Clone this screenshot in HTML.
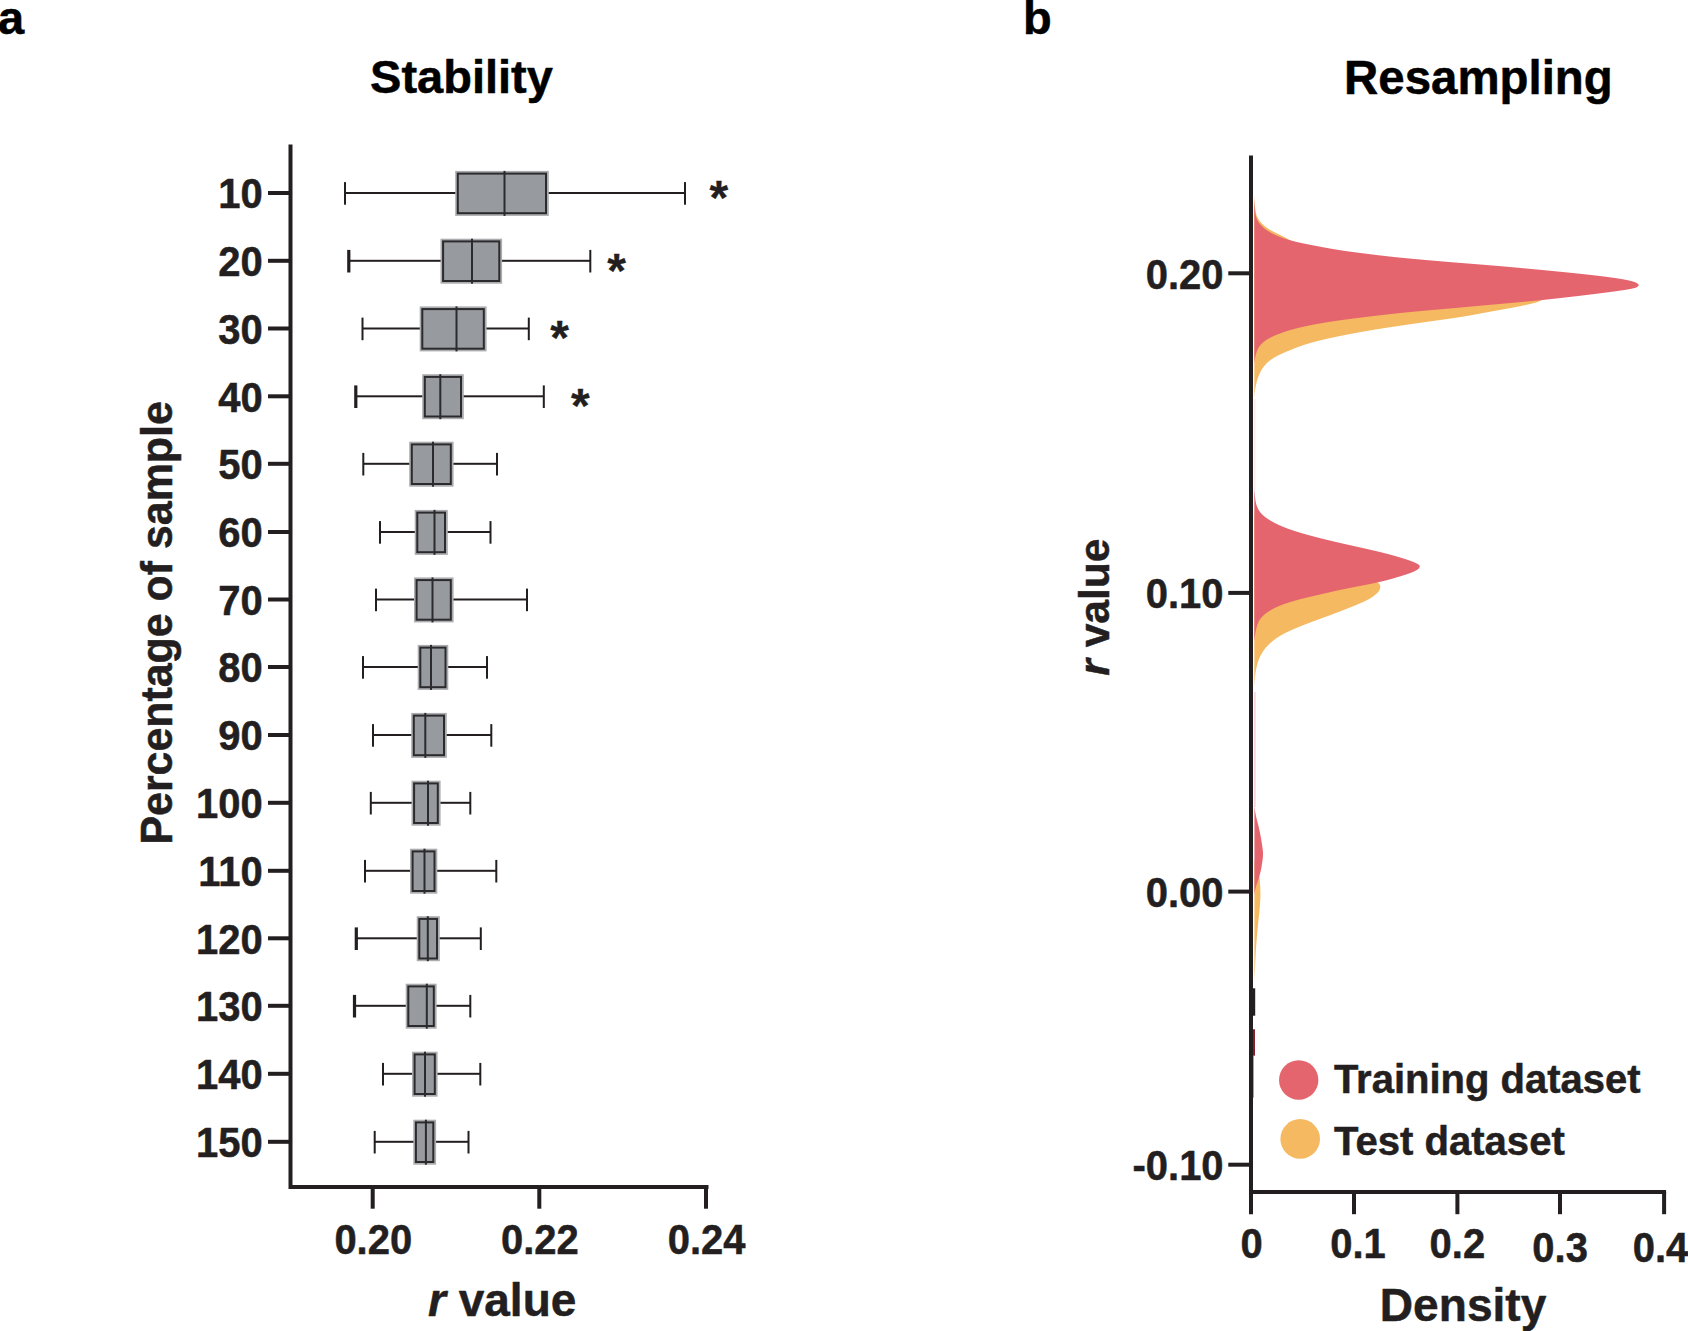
<!DOCTYPE html>
<html lang="en">
<head>
<meta charset="utf-8">
<title>Stability and Resampling</title>
<style>
html,body{margin:0;padding:0;background:#fff;}
body{width:1688px;height:1331px;overflow:hidden;}
svg{display:block;}
svg text{font-family:"Liberation Sans", sans-serif;font-weight:700;fill:#231f20;stroke:#231f20;stroke-width:0.5px;stroke-linejoin:round;}
</style>
</head>
<body>
<svg width="1688" height="1331" viewBox="0 0 1688 1331">
<rect width="1688" height="1331" fill="#fff"/>
<text x="-2" y="34" font-size="47" style="fill:#000;stroke:#000">a</text>
<text x="461.5" y="92.5" font-size="47" style="fill:#000;stroke:#000" text-anchor="middle">Stability</text>
<path d="M290.5 144.5 V1187 H708.5" fill="none" stroke="#231f20" stroke-width="4"/>
<rect x="370.7" y="1187" width="4" height="21.7" fill="#231f20"/>
<text transform="translate(373.3 1254) scale(1 1.045)" font-size="40" text-anchor="middle">0.20</text>
<rect x="537.3" y="1187" width="4" height="21.7" fill="#231f20"/>
<text transform="translate(539.9 1254) scale(1 1.045)" font-size="40" text-anchor="middle">0.22</text>
<rect x="704.0" y="1187" width="4" height="21.7" fill="#231f20"/>
<text transform="translate(706.6 1254) scale(1 1.045)" font-size="40" text-anchor="middle">0.24</text>
<text x="428" y="1315.5" font-size="46"><tspan font-style="italic">r</tspan> value</text>
<text transform="translate(172.4 622.9) rotate(-90) scale(1 1.05)" font-size="42.9" text-anchor="middle">Percentage of sample</text>
<rect x="268" y="191.0" width="22" height="4" fill="#231f20"/>
<text transform="translate(262.7 208.2) scale(1 1.045)" font-size="40" text-anchor="end">10</text>
<rect x="345.0" y="192.0" width="340.0" height="2" fill="#231f20"/>
<rect x="344.0" y="182.1" width="2" height="22.6" fill="#231f20"/>
<rect x="684.0" y="182.1" width="2" height="22.6" fill="#231f20"/>
<rect x="455.2" y="170.9" width="93.6" height="45.0" fill="#abacaf"/>
<rect x="457.8" y="173.6" width="88.2" height="39.6" fill="#979ba0" stroke="#2b2a2c" stroke-width="2"/>
<rect x="503.5" y="170.9" width="2" height="45.0" fill="#2b2a2c"/>
<rect x="268" y="258.8" width="22" height="4" fill="#231f20"/>
<text transform="translate(262.7 276.0) scale(1 1.045)" font-size="40" text-anchor="end">20</text>
<rect x="348.8" y="259.8" width="241.5" height="2" fill="#231f20"/>
<rect x="347.2" y="249.9" width="3.2" height="22.6" fill="#231f20"/>
<rect x="589.3" y="249.9" width="2" height="22.6" fill="#231f20"/>
<rect x="440.5" y="238.7" width="61.6" height="45.0" fill="#abacaf"/>
<rect x="443.1" y="241.4" width="56.2" height="39.6" fill="#979ba0" stroke="#2b2a2c" stroke-width="2"/>
<rect x="471.0" y="238.7" width="2" height="45.0" fill="#2b2a2c"/>
<rect x="268" y="326.5" width="22" height="4" fill="#231f20"/>
<text transform="translate(262.7 343.7) scale(1 1.045)" font-size="40" text-anchor="end">30</text>
<rect x="362.5" y="327.5" width="166.3" height="2" fill="#231f20"/>
<rect x="361.5" y="317.6" width="2" height="22.6" fill="#231f20"/>
<rect x="527.8" y="317.6" width="2" height="22.6" fill="#231f20"/>
<rect x="419.7" y="306.4" width="66.9" height="45.0" fill="#abacaf"/>
<rect x="422.3" y="309.1" width="61.5" height="39.6" fill="#979ba0" stroke="#2b2a2c" stroke-width="2"/>
<rect x="455.5" y="306.4" width="2" height="45.0" fill="#2b2a2c"/>
<rect x="268" y="394.3" width="22" height="4" fill="#231f20"/>
<text transform="translate(262.7 411.5) scale(1 1.045)" font-size="40" text-anchor="end">40</text>
<rect x="355.8" y="395.3" width="188.0" height="2" fill="#231f20"/>
<rect x="354.2" y="385.4" width="3.2" height="22.6" fill="#231f20"/>
<rect x="542.8" y="385.4" width="2" height="22.6" fill="#231f20"/>
<rect x="422.2" y="374.2" width="41.6" height="45.0" fill="#abacaf"/>
<rect x="424.8" y="376.9" width="36.2" height="39.6" fill="#979ba0" stroke="#2b2a2c" stroke-width="2"/>
<rect x="439.3" y="374.2" width="2" height="45.0" fill="#2b2a2c"/>
<rect x="268" y="461.8" width="22" height="4" fill="#231f20"/>
<text transform="translate(262.7 479.0) scale(1 1.045)" font-size="40" text-anchor="end">50</text>
<rect x="363.3" y="462.8" width="133.7" height="2" fill="#231f20"/>
<rect x="362.3" y="452.9" width="2" height="22.6" fill="#231f20"/>
<rect x="496.0" y="452.9" width="2" height="22.6" fill="#231f20"/>
<rect x="409.2" y="441.7" width="44.4" height="45.0" fill="#abacaf"/>
<rect x="411.8" y="444.4" width="39.0" height="39.6" fill="#979ba0" stroke="#2b2a2c" stroke-width="2"/>
<rect x="432.0" y="441.7" width="2" height="45.0" fill="#2b2a2c"/>
<rect x="268" y="530.0" width="22" height="4" fill="#231f20"/>
<text transform="translate(262.7 547.2) scale(1 1.045)" font-size="40" text-anchor="end">60</text>
<rect x="380.0" y="531.0" width="110.5" height="2" fill="#231f20"/>
<rect x="379.0" y="521.1" width="2" height="22.6" fill="#231f20"/>
<rect x="489.5" y="521.1" width="2" height="22.6" fill="#231f20"/>
<rect x="414.7" y="509.9" width="33.1" height="45.0" fill="#abacaf"/>
<rect x="417.3" y="512.6" width="27.7" height="39.6" fill="#979ba0" stroke="#2b2a2c" stroke-width="2"/>
<rect x="433.5" y="509.9" width="2" height="45.0" fill="#2b2a2c"/>
<rect x="268" y="597.5" width="22" height="4" fill="#231f20"/>
<text transform="translate(262.7 614.7) scale(1 1.045)" font-size="40" text-anchor="end">70</text>
<rect x="376.0" y="598.5" width="151.0" height="2" fill="#231f20"/>
<rect x="375.0" y="588.6" width="2" height="22.6" fill="#231f20"/>
<rect x="526.0" y="588.6" width="2" height="22.6" fill="#231f20"/>
<rect x="414.0" y="577.4" width="39.6" height="45.0" fill="#abacaf"/>
<rect x="416.6" y="580.1" width="34.2" height="39.6" fill="#979ba0" stroke="#2b2a2c" stroke-width="2"/>
<rect x="431.5" y="577.4" width="2" height="45.0" fill="#2b2a2c"/>
<rect x="268" y="665.0" width="22" height="4" fill="#231f20"/>
<text transform="translate(262.7 682.2) scale(1 1.045)" font-size="40" text-anchor="end">80</text>
<rect x="363.0" y="666.0" width="124.0" height="2" fill="#231f20"/>
<rect x="362.0" y="656.1" width="2" height="22.6" fill="#231f20"/>
<rect x="486.0" y="656.1" width="2" height="22.6" fill="#231f20"/>
<rect x="417.7" y="644.9" width="30.6" height="45.0" fill="#abacaf"/>
<rect x="420.3" y="647.6" width="25.2" height="39.6" fill="#979ba0" stroke="#2b2a2c" stroke-width="2"/>
<rect x="430.0" y="644.9" width="2" height="45.0" fill="#2b2a2c"/>
<rect x="268" y="733.0" width="22" height="4" fill="#231f20"/>
<text transform="translate(262.7 750.2) scale(1 1.045)" font-size="40" text-anchor="end">90</text>
<rect x="373.0" y="734.0" width="118.3" height="2" fill="#231f20"/>
<rect x="372.0" y="724.1" width="2" height="22.6" fill="#231f20"/>
<rect x="490.3" y="724.1" width="2" height="22.6" fill="#231f20"/>
<rect x="411.2" y="712.9" width="35.6" height="45.0" fill="#abacaf"/>
<rect x="413.8" y="715.6" width="30.2" height="39.6" fill="#979ba0" stroke="#2b2a2c" stroke-width="2"/>
<rect x="424.3" y="712.9" width="2" height="45.0" fill="#2b2a2c"/>
<rect x="268" y="800.8" width="22" height="4" fill="#231f20"/>
<text transform="translate(262.7 818.0) scale(1 1.045)" font-size="40" text-anchor="end">100</text>
<rect x="370.8" y="801.8" width="99.5" height="2" fill="#231f20"/>
<rect x="369.8" y="791.9" width="2" height="22.6" fill="#231f20"/>
<rect x="469.3" y="791.9" width="2" height="22.6" fill="#231f20"/>
<rect x="411.5" y="780.7" width="29.1" height="45.0" fill="#abacaf"/>
<rect x="414.1" y="783.4" width="23.7" height="39.6" fill="#979ba0" stroke="#2b2a2c" stroke-width="2"/>
<rect x="427.0" y="780.7" width="2" height="45.0" fill="#2b2a2c"/>
<rect x="268" y="868.8" width="22" height="4" fill="#231f20"/>
<text transform="translate(262.7 886.0) scale(1 1.045)" font-size="40" text-anchor="end">110</text>
<rect x="365.0" y="869.8" width="131.3" height="2" fill="#231f20"/>
<rect x="364.0" y="859.9" width="2" height="22.6" fill="#231f20"/>
<rect x="495.3" y="859.9" width="2" height="22.6" fill="#231f20"/>
<rect x="410.0" y="848.7" width="27.3" height="45.0" fill="#abacaf"/>
<rect x="412.6" y="851.4" width="21.9" height="39.6" fill="#979ba0" stroke="#2b2a2c" stroke-width="2"/>
<rect x="423.5" y="848.7" width="2" height="45.0" fill="#2b2a2c"/>
<rect x="268" y="936.3" width="22" height="4" fill="#231f20"/>
<text transform="translate(262.7 953.5) scale(1 1.045)" font-size="40" text-anchor="end">120</text>
<rect x="356.3" y="937.3" width="124.5" height="2" fill="#231f20"/>
<rect x="354.7" y="927.4" width="3.2" height="22.6" fill="#231f20"/>
<rect x="479.8" y="927.4" width="2" height="22.6" fill="#231f20"/>
<rect x="416.7" y="916.2" width="23.1" height="45.0" fill="#abacaf"/>
<rect x="419.3" y="918.9" width="17.7" height="39.6" fill="#979ba0" stroke="#2b2a2c" stroke-width="2"/>
<rect x="426.8" y="916.2" width="2" height="45.0" fill="#2b2a2c"/>
<rect x="268" y="1003.8" width="22" height="4" fill="#231f20"/>
<text transform="translate(262.7 1021.0) scale(1 1.045)" font-size="40" text-anchor="end">130</text>
<rect x="354.5" y="1004.8" width="115.8" height="2" fill="#231f20"/>
<rect x="352.9" y="994.9" width="3.2" height="22.6" fill="#231f20"/>
<rect x="469.3" y="994.9" width="2" height="22.6" fill="#231f20"/>
<rect x="405.7" y="983.7" width="30.9" height="45.0" fill="#abacaf"/>
<rect x="408.3" y="986.4" width="25.5" height="39.6" fill="#979ba0" stroke="#2b2a2c" stroke-width="2"/>
<rect x="425.8" y="983.7" width="2" height="45.0" fill="#2b2a2c"/>
<rect x="268" y="1071.8" width="22" height="4" fill="#231f20"/>
<text transform="translate(262.7 1089.0) scale(1 1.045)" font-size="40" text-anchor="end">140</text>
<rect x="383.0" y="1072.8" width="97.3" height="2" fill="#231f20"/>
<rect x="382.0" y="1062.9" width="2" height="22.6" fill="#231f20"/>
<rect x="479.3" y="1062.9" width="2" height="22.6" fill="#231f20"/>
<rect x="412.0" y="1051.7" width="25.6" height="45.0" fill="#abacaf"/>
<rect x="414.6" y="1054.4" width="20.2" height="39.6" fill="#979ba0" stroke="#2b2a2c" stroke-width="2"/>
<rect x="424.0" y="1051.7" width="2" height="45.0" fill="#2b2a2c"/>
<rect x="268" y="1139.8" width="22" height="4" fill="#231f20"/>
<text transform="translate(262.7 1157.0) scale(1 1.045)" font-size="40" text-anchor="end">150</text>
<rect x="374.7" y="1140.8" width="93.8" height="2" fill="#231f20"/>
<rect x="373.7" y="1130.9" width="2" height="22.6" fill="#231f20"/>
<rect x="467.5" y="1130.9" width="2" height="22.6" fill="#231f20"/>
<rect x="413.3" y="1119.7" width="22.8" height="45.0" fill="#abacaf"/>
<rect x="415.9" y="1122.4" width="17.4" height="39.6" fill="#979ba0" stroke="#2b2a2c" stroke-width="2"/>
<rect x="424.9" y="1119.7" width="2" height="45.0" fill="#2b2a2c"/>
<text x="718.8" y="213.8" font-size="48" text-anchor="middle" style="stroke-width:0.3px">*</text>
<text x="616.7" y="286.5" font-size="48" text-anchor="middle" style="stroke-width:0.3px">*</text>
<text x="559.7" y="354.0" font-size="48" text-anchor="middle" style="stroke-width:0.3px">*</text>
<text x="580.4" y="421.5" font-size="48" text-anchor="middle" style="stroke-width:0.3px">*</text>
<text x="1023" y="34" font-size="47" style="fill:#000;stroke:#000">b</text>
<text x="1478.4" y="93.6" font-size="47.4" style="fill:#000;stroke:#000" text-anchor="middle">Resampling</text>
<path d="M1254.3 195.0 L1254.3 195.0 L1254.3 195.5 L1254.3 196.0 L1254.4 196.5 L1254.4 197.0 L1254.4 197.5 L1254.4 198.0 L1254.5 198.5 L1254.5 199.0 L1254.5 199.5 L1254.5 200.0 L1254.6 200.5 L1254.6 201.0 L1254.6 201.5 L1254.7 202.0 L1254.7 202.5 L1254.7 203.0 L1254.8 203.5 L1254.8 204.0 L1254.9 204.5 L1254.9 205.0 L1254.9 205.5 L1255.0 206.0 L1255.0 206.5 L1255.1 207.0 L1255.1 207.5 L1255.2 208.0 L1255.2 208.5 L1255.3 209.0 L1255.4 209.5 L1255.4 210.0 L1255.5 210.5 L1255.6 211.0 L1255.7 211.5 L1255.8 212.0 L1255.9 212.5 L1256.0 213.0 L1256.1 213.5 L1256.2 214.0 L1256.4 214.5 L1256.5 215.0 L1256.7 215.5 L1256.9 216.0 L1257.1 216.5 L1257.3 217.0 L1257.6 217.5 L1257.8 218.0 L1258.1 218.5 L1258.4 219.0 L1258.7 219.5 L1259.0 220.0 L1259.4 220.5 L1259.7 221.0 L1260.1 221.5 L1260.6 222.0 L1261.0 222.5 L1261.5 223.0 L1261.9 223.5 L1262.4 224.0 L1263.0 224.5 L1263.5 225.0 L1264.0 225.5 L1264.6 226.0 L1265.2 226.5 L1265.9 227.0 L1266.5 227.5 L1267.2 228.0 L1267.9 228.5 L1268.7 229.0 L1269.5 229.5 L1270.3 230.0 L1271.2 230.5 L1272.1 231.0 L1273.0 231.5 L1274.0 232.0 L1275.0 232.5 L1276.0 233.0 L1277.0 233.5 L1278.1 234.0 L1279.1 234.5 L1280.2 235.0 L1281.2 235.5 L1282.2 236.0 L1283.2 236.5 L1284.2 237.0 L1285.1 237.5 L1286.1 238.0 L1287.0 238.5 L1287.8 239.0 L1288.7 239.5 L1289.6 240.0 L1290.5 240.5 L1291.4 241.0 L1292.3 241.5 L1293.3 242.0 L1294.3 242.5 L1295.4 243.0 L1296.6 243.5 L1297.8 244.0 L1299.1 244.5 L1300.6 245.0 L1302.1 245.5 L1303.8 246.0 L1305.7 246.5 L1307.6 247.0 L1309.8 247.5 L1312.0 248.0 L1314.4 248.5 L1316.9 249.0 L1319.6 249.5 L1322.3 250.0 L1325.2 250.5 L1328.1 251.0 L1331.2 251.5 L1334.3 252.0 L1337.4 252.5 L1340.7 253.0 L1344.0 253.5 L1347.3 254.0 L1350.7 254.5 L1354.1 255.0 L1357.5 255.5 L1360.9 256.0 L1364.3 256.5 L1367.7 257.0 L1371.1 257.5 L1374.5 258.0 L1377.8 258.5 L1381.1 259.0 L1384.4 259.5 L1387.6 260.0 L1390.7 260.5 L1393.8 261.0 L1396.9 261.5 L1399.9 262.0 L1402.9 262.5 L1405.8 263.0 L1408.8 263.5 L1411.8 264.0 L1414.8 264.5 L1417.8 265.0 L1420.8 265.5 L1423.8 266.0 L1426.8 266.5 L1429.9 267.0 L1432.9 267.5 L1435.9 268.0 L1439.0 268.5 L1442.0 269.0 L1445.0 269.5 L1448.0 270.0 L1451.0 270.5 L1454.0 271.0 L1456.9 271.5 L1459.8 272.0 L1462.7 272.5 L1465.5 273.0 L1468.3 273.5 L1471.1 274.0 L1473.8 274.5 L1476.4 275.0 L1479.1 275.5 L1481.6 276.0 L1484.1 276.5 L1486.5 277.0 L1488.9 277.5 L1491.2 278.0 L1493.5 278.5 L1495.6 279.0 L1497.8 279.5 L1499.9 280.0 L1501.9 280.5 L1504.0 281.0 L1506.0 281.5 L1508.0 282.0 L1510.1 282.5 L1512.1 283.0 L1514.1 283.5 L1516.1 284.0 L1518.1 284.5 L1520.0 285.0 L1521.9 285.5 L1523.8 286.0 L1525.6 286.5 L1527.4 287.0 L1529.1 287.5 L1530.7 288.0 L1532.2 288.5 L1533.7 289.0 L1535.1 289.5 L1536.4 290.0 L1537.6 290.5 L1538.7 291.0 L1539.7 291.5 L1540.6 292.0 L1541.4 292.5 L1542.1 293.0 L1542.6 293.5 L1542.9 294.0 L1543.2 294.5 L1543.4 295.0 L1543.6 295.5 L1543.7 296.0 L1543.8 296.5 L1543.9 297.0 L1544.0 297.5 L1544.0 298.0 L1543.8 298.5 L1543.4 299.0 L1542.8 299.5 L1542.0 300.0 L1541.0 300.5 L1540.0 301.0 L1538.9 301.5 L1537.6 302.0 L1536.1 302.5 L1534.3 303.0 L1532.3 303.5 L1530.2 304.0 L1527.9 304.5 L1525.6 305.0 L1523.3 305.5 L1520.9 306.0 L1518.4 306.5 L1515.9 307.0 L1513.3 307.5 L1510.6 308.0 L1507.9 308.5 L1505.2 309.0 L1502.4 309.5 L1499.6 310.0 L1496.8 310.5 L1494.0 311.0 L1491.2 311.5 L1488.5 312.0 L1485.8 312.5 L1483.1 313.0 L1480.5 313.5 L1477.8 314.0 L1475.1 314.5 L1472.4 315.0 L1469.6 315.5 L1466.7 316.0 L1463.7 316.5 L1460.6 317.0 L1457.4 317.5 L1454.1 318.0 L1450.7 318.5 L1447.2 319.0 L1443.7 319.5 L1440.1 320.0 L1436.5 320.5 L1432.9 321.0 L1429.3 321.5 L1425.7 322.0 L1422.2 322.5 L1418.7 323.0 L1415.2 323.5 L1411.8 324.0 L1408.3 324.5 L1404.9 325.0 L1401.6 325.5 L1398.2 326.0 L1394.9 326.5 L1391.5 327.0 L1388.2 327.5 L1385.0 328.0 L1381.8 328.5 L1378.6 329.0 L1375.5 329.5 L1372.5 330.0 L1369.5 330.5 L1366.6 331.0 L1363.7 331.5 L1360.9 332.0 L1358.2 332.5 L1355.5 333.0 L1352.8 333.5 L1350.1 334.0 L1347.6 334.5 L1345.0 335.0 L1342.5 335.5 L1340.0 336.0 L1337.6 336.5 L1335.2 337.0 L1332.8 337.5 L1330.5 338.0 L1328.2 338.5 L1326.0 339.0 L1323.8 339.5 L1321.7 340.0 L1319.7 340.5 L1317.7 341.0 L1315.8 341.5 L1313.9 342.0 L1312.1 342.5 L1310.3 343.0 L1308.6 343.5 L1307.0 344.0 L1305.3 344.5 L1303.8 345.0 L1302.3 345.5 L1300.9 346.0 L1299.5 346.5 L1298.1 347.0 L1296.8 347.5 L1295.5 348.0 L1294.3 348.5 L1293.0 349.0 L1291.8 349.5 L1290.6 350.0 L1289.3 350.5 L1288.1 351.0 L1286.9 351.5 L1285.6 352.0 L1284.5 352.5 L1283.3 353.0 L1282.2 353.5 L1281.1 354.0 L1280.0 354.5 L1279.0 355.0 L1278.0 355.5 L1277.0 356.0 L1276.1 356.5 L1275.2 357.0 L1274.3 357.5 L1273.5 358.0 L1272.7 358.5 L1272.0 359.0 L1271.3 359.5 L1270.6 360.0 L1269.9 360.5 L1269.3 361.0 L1268.7 361.5 L1268.1 362.0 L1267.6 362.5 L1267.0 363.0 L1266.5 363.5 L1266.0 364.0 L1265.6 364.5 L1265.1 365.0 L1264.7 365.5 L1264.3 366.0 L1263.9 366.5 L1263.5 367.0 L1263.1 367.5 L1262.8 368.0 L1262.4 368.5 L1262.1 369.0 L1261.8 369.5 L1261.5 370.0 L1261.2 370.5 L1260.9 371.0 L1260.7 371.5 L1260.4 372.0 L1260.1 372.5 L1259.9 373.0 L1259.7 373.5 L1259.4 374.0 L1259.2 374.5 L1259.0 375.0 L1258.8 375.5 L1258.6 376.0 L1258.4 376.5 L1258.2 377.0 L1258.0 377.5 L1257.9 378.0 L1257.7 378.5 L1257.5 379.0 L1257.4 379.5 L1257.2 380.0 L1257.1 380.5 L1256.9 381.0 L1256.8 381.5 L1256.7 382.0 L1256.5 382.5 L1256.4 383.0 L1256.3 383.5 L1256.2 384.0 L1256.1 384.5 L1256.0 385.0 L1255.9 385.5 L1255.8 386.0 L1255.7 386.5 L1255.6 387.0 L1255.5 387.5 L1255.4 388.0 L1255.3 388.5 L1255.2 389.0 L1255.1 389.5 L1255.1 390.0 L1255.0 390.5 L1255.0 391.0 L1254.9 391.5 L1254.8 392.0 L1254.8 392.5 L1254.7 393.0 L1254.7 393.5 L1254.6 394.0 L1254.6 394.5 L1254.5 395.0 L1254.5 395.5 L1254.5 396.0 L1254.4 396.5 L1254.4 397.0 L1254.4 397.5 L1254.4 398.0 L1254.3 398.5 L1254.3 399.0 L1254.3 399.0 Z" fill="#f5b961"/>
<path d="M1254.3 198.0 L1254.3 198.0 L1254.3 198.5 L1254.4 199.0 L1254.4 199.5 L1254.4 200.0 L1254.4 200.5 L1254.4 201.0 L1254.5 201.5 L1254.5 202.0 L1254.5 202.5 L1254.6 203.0 L1254.6 203.5 L1254.6 204.0 L1254.6 204.5 L1254.7 205.0 L1254.7 205.5 L1254.8 206.0 L1254.8 206.5 L1254.8 207.0 L1254.9 207.5 L1254.9 208.0 L1254.9 208.5 L1255.0 209.0 L1255.0 209.5 L1255.1 210.0 L1255.1 210.5 L1255.2 211.0 L1255.2 211.5 L1255.2 212.0 L1255.3 212.5 L1255.4 213.0 L1255.4 213.5 L1255.5 214.0 L1255.6 214.5 L1255.7 215.0 L1255.8 215.5 L1255.9 216.0 L1256.0 216.5 L1256.1 217.0 L1256.3 217.5 L1256.5 218.0 L1256.6 218.5 L1256.8 219.0 L1257.0 219.5 L1257.3 220.0 L1257.5 220.5 L1257.8 221.0 L1258.1 221.5 L1258.4 222.0 L1258.7 222.5 L1259.1 223.0 L1259.5 223.5 L1259.9 224.0 L1260.3 224.5 L1260.8 225.0 L1261.3 225.5 L1261.8 226.0 L1262.3 226.5 L1262.8 227.0 L1263.4 227.5 L1263.9 228.0 L1264.5 228.5 L1265.1 229.0 L1265.8 229.5 L1266.5 230.0 L1267.2 230.5 L1267.9 231.0 L1268.7 231.5 L1269.6 232.0 L1270.4 232.5 L1271.3 233.0 L1272.3 233.5 L1273.3 234.0 L1274.3 234.5 L1275.4 235.0 L1276.5 235.5 L1277.7 236.0 L1278.9 236.5 L1280.2 237.0 L1281.5 237.5 L1282.9 238.0 L1284.4 238.5 L1285.9 239.0 L1287.5 239.5 L1289.2 240.0 L1291.0 240.5 L1292.9 241.0 L1294.9 241.5 L1296.9 242.0 L1299.1 242.5 L1301.4 243.0 L1303.7 243.5 L1306.2 244.0 L1308.7 244.5 L1311.2 245.0 L1313.8 245.5 L1316.4 246.0 L1319.1 246.5 L1321.7 247.0 L1324.4 247.5 L1327.2 248.0 L1329.9 248.5 L1332.8 249.0 L1335.8 249.5 L1338.8 250.0 L1342.1 250.5 L1345.4 251.0 L1349.0 251.5 L1352.7 252.0 L1356.5 252.5 L1360.4 253.0 L1364.4 253.5 L1368.4 254.0 L1372.4 254.5 L1376.5 255.0 L1380.6 255.5 L1384.9 256.0 L1389.3 256.5 L1394.0 257.0 L1398.8 257.5 L1403.9 258.0 L1409.2 258.5 L1414.6 259.0 L1420.2 259.5 L1425.7 260.0 L1431.4 260.5 L1437.2 261.0 L1443.0 261.5 L1449.0 262.0 L1455.1 262.5 L1461.3 263.0 L1467.5 263.5 L1473.9 264.0 L1480.1 264.5 L1486.3 265.0 L1492.4 265.5 L1498.4 266.0 L1504.2 266.5 L1509.9 267.0 L1515.4 267.5 L1520.9 268.0 L1526.3 268.5 L1531.6 269.0 L1536.9 269.5 L1542.1 270.0 L1547.3 270.5 L1552.4 271.0 L1557.5 271.5 L1562.6 272.0 L1567.6 272.5 L1572.5 273.0 L1577.3 273.5 L1582.0 274.0 L1586.7 274.5 L1591.2 275.0 L1595.5 275.5 L1599.8 276.0 L1603.8 276.5 L1607.7 277.0 L1611.4 277.5 L1614.9 278.0 L1618.2 278.5 L1621.3 279.0 L1624.1 279.5 L1626.6 280.0 L1629.0 280.5 L1631.0 281.0 L1632.9 281.5 L1634.5 282.0 L1635.9 282.5 L1636.8 283.0 L1637.4 283.5 L1638.0 284.0 L1638.4 284.5 L1638.7 285.0 L1638.6 285.5 L1638.3 286.0 L1637.8 286.5 L1637.1 287.0 L1636.2 287.5 L1634.7 288.0 L1632.6 288.5 L1630.1 289.0 L1627.5 289.5 L1624.4 290.0 L1621.0 290.5 L1617.4 291.0 L1613.7 291.5 L1610.0 292.0 L1606.2 292.5 L1602.4 293.0 L1598.5 293.5 L1594.5 294.0 L1590.5 294.5 L1586.4 295.0 L1582.3 295.5 L1578.1 296.0 L1573.8 296.5 L1569.5 297.0 L1565.2 297.5 L1560.8 298.0 L1556.3 298.5 L1551.8 299.0 L1547.2 299.5 L1542.5 300.0 L1537.6 300.5 L1532.5 301.0 L1527.2 301.5 L1521.8 302.0 L1516.3 302.5 L1510.6 303.0 L1505.0 303.5 L1499.3 304.0 L1493.7 304.5 L1488.1 305.0 L1482.6 305.5 L1477.2 306.0 L1471.7 306.5 L1466.3 307.0 L1460.8 307.5 L1455.3 308.0 L1449.7 308.5 L1444.0 309.0 L1438.3 309.5 L1432.6 310.0 L1426.9 310.5 L1421.3 311.0 L1415.9 311.5 L1410.6 312.0 L1405.5 312.5 L1400.6 313.0 L1395.8 313.5 L1391.2 314.0 L1386.7 314.5 L1382.3 315.0 L1378.0 315.5 L1373.8 316.0 L1369.6 316.5 L1365.6 317.0 L1361.5 317.5 L1357.6 318.0 L1353.6 318.5 L1349.8 319.0 L1346.0 319.5 L1342.3 320.0 L1338.7 320.5 L1335.2 321.0 L1331.9 321.5 L1328.6 322.0 L1325.5 322.5 L1322.5 323.0 L1319.7 323.5 L1316.9 324.0 L1314.3 324.5 L1311.7 325.0 L1309.2 325.5 L1306.8 326.0 L1304.5 326.5 L1302.2 327.0 L1300.1 327.5 L1298.0 328.0 L1296.0 328.5 L1294.1 329.0 L1292.3 329.5 L1290.5 330.0 L1288.8 330.5 L1287.2 331.0 L1285.7 331.5 L1284.2 332.0 L1282.7 332.5 L1281.3 333.0 L1280.0 333.5 L1278.6 334.0 L1277.4 334.5 L1276.1 335.0 L1274.9 335.5 L1273.8 336.0 L1272.7 336.5 L1271.7 337.0 L1270.7 337.5 L1269.7 338.0 L1268.8 338.5 L1268.0 339.0 L1267.1 339.5 L1266.3 340.0 L1265.6 340.5 L1264.9 341.0 L1264.2 341.5 L1263.5 342.0 L1262.9 342.5 L1262.4 343.0 L1261.9 343.5 L1261.4 344.0 L1260.9 344.5 L1260.5 345.0 L1260.1 345.5 L1259.7 346.0 L1259.4 346.5 L1259.0 347.0 L1258.7 347.5 L1258.4 348.0 L1258.1 348.5 L1257.9 349.0 L1257.6 349.5 L1257.4 350.0 L1257.2 350.5 L1257.0 351.0 L1256.8 351.5 L1256.7 352.0 L1256.5 352.5 L1256.3 353.0 L1256.2 353.5 L1256.0 354.0 L1255.9 354.5 L1255.8 355.0 L1255.6 355.5 L1255.5 356.0 L1255.4 356.5 L1255.3 357.0 L1255.2 357.5 L1255.1 358.0 L1255.0 358.5 L1254.9 359.0 L1254.8 359.5 L1254.7 360.0 L1254.7 360.5 L1254.6 361.0 L1254.5 361.5 L1254.5 362.0 L1254.4 362.5 L1254.4 363.0 L1254.3 363.0 Z" fill="#e5656f"/>
<path d="M1254.3 505.0 L1254.3 505.0 L1254.3 505.5 L1254.3 506.0 L1254.3 506.5 L1254.3 507.0 L1254.4 507.5 L1254.4 508.0 L1254.4 508.5 L1254.4 509.0 L1254.4 509.5 L1254.5 510.0 L1254.5 510.5 L1254.5 511.0 L1254.6 511.5 L1254.6 512.0 L1254.7 512.5 L1254.7 513.0 L1254.7 513.5 L1254.8 514.0 L1254.8 514.5 L1254.9 515.0 L1255.0 515.5 L1255.0 516.0 L1255.1 516.5 L1255.1 517.0 L1255.2 517.5 L1255.2 518.0 L1255.3 518.5 L1255.4 519.0 L1255.5 519.5 L1255.5 520.0 L1255.6 520.5 L1255.7 521.0 L1255.8 521.5 L1255.9 522.0 L1256.0 522.5 L1256.2 523.0 L1256.3 523.5 L1256.5 524.0 L1256.6 524.5 L1256.8 525.0 L1257.0 525.5 L1257.2 526.0 L1257.4 526.5 L1257.6 527.0 L1257.8 527.5 L1258.1 528.0 L1258.3 528.5 L1258.6 529.0 L1258.8 529.5 L1259.1 530.0 L1259.4 530.5 L1259.7 531.0 L1260.0 531.5 L1260.3 532.0 L1260.6 532.5 L1260.9 533.0 L1261.2 533.5 L1261.6 534.0 L1261.9 534.5 L1262.2 535.0 L1262.6 535.5 L1262.9 536.0 L1263.3 536.5 L1263.7 537.0 L1264.1 537.5 L1264.4 538.0 L1264.8 538.5 L1265.2 539.0 L1265.7 539.5 L1266.1 540.0 L1266.5 540.5 L1267.0 541.0 L1267.5 541.5 L1268.0 542.0 L1268.6 542.5 L1269.2 543.0 L1269.8 543.5 L1270.4 544.0 L1271.1 544.5 L1271.8 545.0 L1272.5 545.5 L1273.3 546.0 L1274.0 546.5 L1274.8 547.0 L1275.6 547.5 L1276.5 548.0 L1277.3 548.5 L1278.2 549.0 L1279.1 549.5 L1280.0 550.0 L1281.0 550.5 L1281.9 551.0 L1282.9 551.5 L1283.9 552.0 L1284.9 552.5 L1285.9 553.0 L1286.9 553.5 L1288.0 554.0 L1289.1 554.5 L1290.2 555.0 L1291.3 555.5 L1292.5 556.0 L1293.7 556.5 L1294.9 557.0 L1296.3 557.5 L1297.6 558.0 L1299.0 558.5 L1300.4 559.0 L1301.9 559.5 L1303.4 560.0 L1305.0 560.5 L1306.6 561.0 L1308.2 561.5 L1309.8 562.0 L1311.4 562.5 L1313.1 563.0 L1314.8 563.5 L1316.5 564.0 L1318.1 564.5 L1319.8 565.0 L1321.5 565.5 L1323.2 566.0 L1324.9 566.5 L1326.6 567.0 L1328.4 567.5 L1330.1 568.0 L1331.8 568.5 L1333.5 569.0 L1335.3 569.5 L1337.1 570.0 L1338.9 570.5 L1340.7 571.0 L1342.5 571.5 L1344.4 572.0 L1346.2 572.5 L1348.1 573.0 L1349.9 573.5 L1351.7 574.0 L1353.5 574.5 L1355.2 575.0 L1356.9 575.5 L1358.7 576.0 L1360.3 576.5 L1362.0 577.0 L1363.7 577.5 L1365.3 578.0 L1367.0 578.5 L1368.6 579.0 L1370.2 579.5 L1371.7 580.0 L1373.2 580.5 L1374.6 581.0 L1375.9 581.5 L1376.9 582.0 L1377.8 582.5 L1378.5 583.0 L1378.9 583.5 L1379.3 584.0 L1379.6 584.5 L1379.8 585.0 L1380.1 585.5 L1380.2 586.0 L1380.3 586.5 L1380.3 587.0 L1380.2 587.5 L1380.2 588.0 L1380.0 588.5 L1379.9 589.0 L1379.7 589.5 L1379.4 590.0 L1379.2 590.5 L1378.9 591.0 L1378.6 591.5 L1378.2 592.0 L1377.8 592.5 L1377.3 593.0 L1376.7 593.5 L1376.2 594.0 L1375.6 594.5 L1375.0 595.0 L1374.3 595.5 L1373.7 596.0 L1373.0 596.5 L1372.3 597.0 L1371.5 597.5 L1370.7 598.0 L1369.9 598.5 L1369.1 599.0 L1368.2 599.5 L1367.2 600.0 L1366.2 600.5 L1365.2 601.0 L1364.2 601.5 L1363.1 602.0 L1361.9 602.5 L1360.8 603.0 L1359.6 603.5 L1358.4 604.0 L1357.3 604.5 L1356.1 605.0 L1354.9 605.5 L1353.6 606.0 L1352.4 606.5 L1351.2 607.0 L1350.0 607.5 L1348.7 608.0 L1347.4 608.5 L1346.2 609.0 L1344.9 609.5 L1343.6 610.0 L1342.4 610.5 L1341.1 611.0 L1339.8 611.5 L1338.5 612.0 L1337.2 612.5 L1335.8 613.0 L1334.5 613.5 L1333.2 614.0 L1331.8 614.5 L1330.5 615.0 L1329.2 615.5 L1327.8 616.0 L1326.5 616.5 L1325.1 617.0 L1323.8 617.5 L1322.4 618.0 L1321.1 618.5 L1319.7 619.0 L1318.4 619.5 L1317.0 620.0 L1315.6 620.5 L1314.3 621.0 L1312.9 621.5 L1311.6 622.0 L1310.2 622.5 L1308.9 623.0 L1307.6 623.5 L1306.3 624.0 L1305.0 624.5 L1303.7 625.0 L1302.5 625.5 L1301.2 626.0 L1300.0 626.5 L1298.8 627.0 L1297.6 627.5 L1296.4 628.0 L1295.2 628.5 L1294.0 629.0 L1292.8 629.5 L1291.7 630.0 L1290.6 630.5 L1289.5 631.0 L1288.4 631.5 L1287.3 632.0 L1286.3 632.5 L1285.3 633.0 L1284.3 633.5 L1283.4 634.0 L1282.5 634.5 L1281.6 635.0 L1280.7 635.5 L1279.9 636.0 L1279.1 636.5 L1278.3 637.0 L1277.5 637.5 L1276.8 638.0 L1276.0 638.5 L1275.3 639.0 L1274.7 639.5 L1274.0 640.0 L1273.4 640.5 L1272.7 641.0 L1272.1 641.5 L1271.6 642.0 L1271.0 642.5 L1270.4 643.0 L1269.9 643.5 L1269.3 644.0 L1268.8 644.5 L1268.3 645.0 L1267.8 645.5 L1267.3 646.0 L1266.9 646.5 L1266.4 647.0 L1266.0 647.5 L1265.5 648.0 L1265.1 648.5 L1264.7 649.0 L1264.4 649.5 L1264.0 650.0 L1263.6 650.5 L1263.3 651.0 L1262.9 651.5 L1262.6 652.0 L1262.3 652.5 L1262.0 653.0 L1261.7 653.5 L1261.4 654.0 L1261.1 654.5 L1260.8 655.0 L1260.6 655.5 L1260.3 656.0 L1260.1 656.5 L1259.8 657.0 L1259.6 657.5 L1259.4 658.0 L1259.2 658.5 L1259.0 659.0 L1258.8 659.5 L1258.6 660.0 L1258.4 660.5 L1258.3 661.0 L1258.1 661.5 L1257.9 662.0 L1257.8 662.5 L1257.6 663.0 L1257.5 663.5 L1257.3 664.0 L1257.2 664.5 L1257.1 665.0 L1257.0 665.5 L1256.8 666.0 L1256.7 666.5 L1256.6 667.0 L1256.5 667.5 L1256.4 668.0 L1256.3 668.5 L1256.2 669.0 L1256.1 669.5 L1256.0 670.0 L1255.9 670.5 L1255.8 671.0 L1255.8 671.5 L1255.7 672.0 L1255.6 672.5 L1255.5 673.0 L1255.5 673.5 L1255.4 674.0 L1255.3 674.5 L1255.3 675.0 L1255.2 675.5 L1255.2 676.0 L1255.1 676.5 L1255.0 677.0 L1255.0 677.5 L1255.0 678.0 L1254.9 678.5 L1254.9 679.0 L1254.8 679.5 L1254.8 680.0 L1254.7 680.5 L1254.7 681.0 L1254.7 681.5 L1254.6 682.0 L1254.6 682.5 L1254.6 683.0 L1254.5 683.5 L1254.5 684.0 L1254.5 684.5 L1254.4 685.0 L1254.4 685.5 L1254.4 686.0 L1254.4 686.5 L1254.4 687.0 L1254.3 687.5 L1254.3 688.0 L1254.3 688.5 L1254.3 688.7 Z" fill="#f5b961"/>
<path d="M1254.3 488.0 L1254.3 488.0 L1254.4 488.5 L1254.4 489.0 L1254.4 489.5 L1254.5 490.0 L1254.5 490.5 L1254.5 491.0 L1254.6 491.5 L1254.6 492.0 L1254.7 492.5 L1254.7 493.0 L1254.8 493.5 L1254.8 494.0 L1254.9 494.5 L1254.9 495.0 L1254.9 495.5 L1255.0 496.0 L1255.0 496.5 L1255.1 497.0 L1255.1 497.5 L1255.2 498.0 L1255.3 498.5 L1255.3 499.0 L1255.4 499.5 L1255.4 500.0 L1255.5 500.5 L1255.6 501.0 L1255.7 501.5 L1255.8 502.0 L1255.9 502.5 L1256.0 503.0 L1256.1 503.5 L1256.2 504.0 L1256.4 504.5 L1256.5 505.0 L1256.7 505.5 L1256.9 506.0 L1257.1 506.5 L1257.2 507.0 L1257.5 507.5 L1257.7 508.0 L1257.9 508.5 L1258.2 509.0 L1258.4 509.5 L1258.7 510.0 L1259.0 510.5 L1259.3 511.0 L1259.7 511.5 L1260.1 512.0 L1260.4 512.5 L1260.8 513.0 L1261.3 513.5 L1261.7 514.0 L1262.2 514.5 L1262.8 515.0 L1263.3 515.5 L1263.9 516.0 L1264.5 516.5 L1265.1 517.0 L1265.8 517.5 L1266.5 518.0 L1267.2 518.5 L1267.9 519.0 L1268.7 519.5 L1269.5 520.0 L1270.3 520.5 L1271.1 521.0 L1272.0 521.5 L1272.9 522.0 L1273.9 522.5 L1274.8 523.0 L1275.8 523.5 L1276.8 524.0 L1277.9 524.5 L1278.9 525.0 L1280.0 525.5 L1281.2 526.0 L1282.3 526.5 L1283.6 527.0 L1284.8 527.5 L1286.1 528.0 L1287.4 528.5 L1288.8 529.0 L1290.2 529.5 L1291.6 530.0 L1293.1 530.5 L1294.7 531.0 L1296.2 531.5 L1297.9 532.0 L1299.5 532.5 L1301.2 533.0 L1302.9 533.5 L1304.7 534.0 L1306.4 534.5 L1308.2 535.0 L1310.0 535.5 L1311.9 536.0 L1313.7 536.5 L1315.6 537.0 L1317.6 537.5 L1319.5 538.0 L1321.5 538.5 L1323.5 539.0 L1325.6 539.5 L1327.6 540.0 L1329.7 540.5 L1331.8 541.0 L1333.9 541.5 L1336.0 542.0 L1338.2 542.5 L1340.3 543.0 L1342.5 543.5 L1344.7 544.0 L1346.9 544.5 L1349.2 545.0 L1351.4 545.5 L1353.6 546.0 L1355.8 546.5 L1358.1 547.0 L1360.3 547.5 L1362.6 548.0 L1364.8 548.5 L1367.0 549.0 L1369.2 549.5 L1371.4 550.0 L1373.6 550.5 L1375.7 551.0 L1377.8 551.5 L1379.9 552.0 L1381.9 552.5 L1383.9 553.0 L1385.8 553.5 L1387.8 554.0 L1389.6 554.5 L1391.5 555.0 L1393.3 555.5 L1395.1 556.0 L1396.8 556.5 L1398.5 557.0 L1400.2 557.5 L1401.8 558.0 L1403.4 558.5 L1405.0 559.0 L1406.5 559.5 L1408.0 560.0 L1409.5 560.5 L1410.9 561.0 L1412.2 561.5 L1413.5 562.0 L1414.6 562.5 L1415.7 563.0 L1416.8 563.5 L1417.7 564.0 L1418.5 564.5 L1419.0 565.0 L1419.4 565.5 L1419.7 566.0 L1419.8 566.5 L1419.7 567.0 L1419.4 567.5 L1419.1 568.0 L1418.8 568.5 L1418.3 569.0 L1417.6 569.5 L1416.9 570.0 L1416.0 570.5 L1415.0 571.0 L1414.0 571.5 L1412.9 572.0 L1411.7 572.5 L1410.4 573.0 L1408.9 573.5 L1407.5 574.0 L1406.0 574.5 L1404.4 575.0 L1402.9 575.5 L1401.3 576.0 L1399.7 576.5 L1398.0 577.0 L1396.3 577.5 L1394.7 578.0 L1392.9 578.5 L1391.2 579.0 L1389.4 579.5 L1387.5 580.0 L1385.6 580.5 L1383.6 581.0 L1381.5 581.5 L1379.4 582.0 L1377.2 582.5 L1374.9 583.0 L1372.5 583.5 L1370.0 584.0 L1367.5 584.5 L1365.0 585.0 L1362.4 585.5 L1359.8 586.0 L1357.2 586.5 L1354.6 587.0 L1352.1 587.5 L1349.5 588.0 L1347.0 588.5 L1344.5 589.0 L1342.1 589.5 L1339.7 590.0 L1337.4 590.5 L1335.1 591.0 L1332.9 591.5 L1330.8 592.0 L1328.7 592.5 L1326.6 593.0 L1324.4 593.5 L1322.3 594.0 L1320.2 594.5 L1318.0 595.0 L1315.8 595.5 L1313.6 596.0 L1311.4 596.5 L1309.3 597.0 L1307.1 597.5 L1305.0 598.0 L1303.0 598.5 L1301.0 599.0 L1299.1 599.5 L1297.3 600.0 L1295.4 600.5 L1293.7 601.0 L1292.0 601.5 L1290.3 602.0 L1288.7 602.5 L1287.2 603.0 L1285.7 603.5 L1284.3 604.0 L1282.9 604.5 L1281.6 605.0 L1280.3 605.5 L1279.1 606.0 L1277.9 606.5 L1276.8 607.0 L1275.8 607.5 L1274.7 608.0 L1273.8 608.5 L1272.8 609.0 L1271.9 609.5 L1271.0 610.0 L1270.2 610.5 L1269.3 611.0 L1268.6 611.5 L1267.8 612.0 L1267.1 612.5 L1266.4 613.0 L1265.7 613.5 L1265.1 614.0 L1264.5 614.5 L1263.9 615.0 L1263.4 615.5 L1262.8 616.0 L1262.4 616.5 L1261.9 617.0 L1261.4 617.5 L1261.0 618.0 L1260.6 618.5 L1260.3 619.0 L1259.9 619.5 L1259.6 620.0 L1259.3 620.5 L1259.0 621.0 L1258.8 621.5 L1258.5 622.0 L1258.3 622.5 L1258.1 623.0 L1257.9 623.5 L1257.7 624.0 L1257.5 624.5 L1257.3 625.0 L1257.2 625.5 L1257.0 626.0 L1256.9 626.5 L1256.7 627.0 L1256.6 627.5 L1256.5 628.0 L1256.3 628.5 L1256.2 629.0 L1256.1 629.5 L1256.0 630.0 L1255.9 630.5 L1255.8 631.0 L1255.7 631.5 L1255.6 632.0 L1255.5 632.5 L1255.4 633.0 L1255.3 633.5 L1255.3 634.0 L1255.2 634.5 L1255.1 635.0 L1255.0 635.5 L1255.0 636.0 L1254.9 636.5 L1254.8 637.0 L1254.8 637.5 L1254.7 638.0 L1254.6 638.5 L1254.6 639.0 L1254.5 639.5 L1254.5 640.0 L1254.4 640.5 L1254.4 641.0 L1254.3 641.4 Z" fill="#e5656f"/>
<rect x="1254.3" y="399" width="1" height="90" fill="#e5656f" opacity="0.2"/>
<rect x="1254.5" y="692" width="0.9" height="115" fill="#e5656f" opacity="0.5"/>
<path d="M1254.4 860.0 L1254.6 860.0 L1254.7 860.5 L1254.8 861.0 L1254.9 861.5 L1255.1 862.0 L1255.2 862.5 L1255.4 863.0 L1255.6 863.5 L1255.7 864.0 L1255.9 864.5 L1256.0 865.0 L1256.2 865.5 L1256.3 866.0 L1256.5 866.5 L1256.6 867.0 L1256.8 867.5 L1256.9 868.0 L1257.1 868.5 L1257.2 869.0 L1257.4 869.5 L1257.5 870.0 L1257.6 870.5 L1257.8 871.0 L1257.9 871.5 L1258.1 872.0 L1258.2 872.5 L1258.4 873.0 L1258.5 873.5 L1258.7 874.0 L1258.8 874.5 L1258.9 875.0 L1259.0 875.5 L1259.2 876.0 L1259.3 876.5 L1259.4 877.0 L1259.5 877.5 L1259.5 878.0 L1259.6 878.5 L1259.7 879.0 L1259.7 879.5 L1259.8 880.0 L1259.8 880.5 L1259.8 881.0 L1259.9 881.5 L1259.9 882.0 L1260.0 882.5 L1260.0 883.0 L1260.0 883.5 L1260.0 884.0 L1260.1 884.5 L1260.1 885.0 L1260.1 885.5 L1260.2 886.0 L1260.2 886.5 L1260.2 887.0 L1260.2 887.5 L1260.3 888.0 L1260.3 888.5 L1260.3 889.0 L1260.3 889.5 L1260.3 890.0 L1260.3 890.5 L1260.4 891.0 L1260.4 891.5 L1260.4 892.0 L1260.4 892.5 L1260.4 893.0 L1260.4 893.5 L1260.4 894.0 L1260.4 894.5 L1260.4 895.0 L1260.4 895.5 L1260.4 896.0 L1260.4 896.5 L1260.4 897.0 L1260.4 897.5 L1260.3 898.0 L1260.3 898.5 L1260.3 899.0 L1260.3 899.5 L1260.2 900.0 L1260.2 900.5 L1260.2 901.0 L1260.2 901.5 L1260.1 902.0 L1260.1 902.5 L1260.1 903.0 L1260.0 903.5 L1260.0 904.0 L1260.0 904.5 L1259.9 905.0 L1259.9 905.5 L1259.9 906.0 L1259.8 906.5 L1259.8 907.0 L1259.7 907.5 L1259.7 908.0 L1259.7 908.5 L1259.6 909.0 L1259.6 909.5 L1259.6 910.0 L1259.5 910.5 L1259.5 911.0 L1259.4 911.5 L1259.4 912.0 L1259.3 912.5 L1259.3 913.0 L1259.2 913.5 L1259.2 914.0 L1259.1 914.5 L1259.0 915.0 L1259.0 915.5 L1258.9 916.0 L1258.9 916.5 L1258.8 917.0 L1258.8 917.5 L1258.7 918.0 L1258.6 918.5 L1258.6 919.0 L1258.5 919.5 L1258.5 920.0 L1258.4 920.5 L1258.4 921.0 L1258.3 921.5 L1258.3 922.0 L1258.2 922.5 L1258.2 923.0 L1258.1 923.5 L1258.1 924.0 L1258.0 924.5 L1258.0 925.0 L1257.9 925.5 L1257.9 926.0 L1257.8 926.5 L1257.8 927.0 L1257.7 927.5 L1257.7 928.0 L1257.6 928.5 L1257.6 929.0 L1257.5 929.5 L1257.5 930.0 L1257.4 930.5 L1257.4 931.0 L1257.3 931.5 L1257.3 932.0 L1257.2 932.5 L1257.2 933.0 L1257.1 933.5 L1257.1 934.0 L1257.1 934.5 L1257.0 935.0 L1257.0 935.5 L1256.9 936.0 L1256.9 936.5 L1256.9 937.0 L1256.8 937.5 L1256.8 938.0 L1256.7 938.5 L1256.7 939.0 L1256.7 939.5 L1256.6 940.0 L1256.6 940.5 L1256.5 941.0 L1256.5 941.5 L1256.5 942.0 L1256.4 942.5 L1256.4 943.0 L1256.4 943.5 L1256.3 944.0 L1256.3 944.5 L1256.2 945.0 L1256.2 945.5 L1256.2 946.0 L1256.1 946.5 L1256.1 947.0 L1256.1 947.5 L1256.1 948.0 L1256.0 948.5 L1256.0 949.0 L1256.0 949.5 L1255.9 950.0 L1255.9 950.5 L1255.9 951.0 L1255.8 951.5 L1255.8 952.0 L1255.8 952.5 L1255.8 953.0 L1255.7 953.5 L1255.7 954.0 L1255.7 954.5 L1255.7 955.0 L1255.6 955.5 L1255.6 956.0 L1255.6 956.5 L1255.6 957.0 L1255.5 957.5 L1255.5 958.0 L1255.5 958.5 L1255.5 959.0 L1255.4 959.5 L1255.4 960.0 L1255.4 960.5 L1255.4 961.0 L1255.3 961.5 L1255.3 962.0 L1255.3 962.5 L1255.3 963.0 L1255.2 963.5 L1255.2 964.0 L1255.2 964.5 L1255.2 965.0 L1255.1 965.5 L1255.1 966.0 L1255.1 966.5 L1255.1 967.0 L1255.1 967.5 L1255.0 968.0 L1255.0 968.5 L1255.0 969.0 L1255.0 969.5 L1254.9 970.0 L1254.9 970.5 L1254.9 971.0 L1254.9 971.5 L1254.8 972.0 L1254.8 972.5 L1254.8 973.0 L1254.8 973.5 L1254.7 974.0 L1254.7 974.5 L1254.7 975.0 L1254.7 975.5 L1254.7 976.0 L1254.6 976.5 L1254.6 977.0 L1254.6 977.5 L1254.6 978.0 L1254.6 978.5 L1254.5 979.0 L1254.5 979.5 L1254.5 980.0 L1254.5 980.5 L1254.5 981.0 L1254.4 981.5 L1254.4 982.0 L1254.4 982.0 Z" fill="#f5b961"/>
<path d="M1254.4 806.0 L1254.5 806.0 L1254.5 806.5 L1254.6 807.0 L1254.6 807.5 L1254.7 808.0 L1254.7 808.5 L1254.8 809.0 L1254.9 809.5 L1255.0 810.0 L1255.0 810.5 L1255.1 811.0 L1255.2 811.5 L1255.3 812.0 L1255.4 812.5 L1255.4 813.0 L1255.5 813.5 L1255.6 814.0 L1255.7 814.5 L1255.8 815.0 L1255.9 815.5 L1256.0 816.0 L1256.1 816.5 L1256.2 817.0 L1256.3 817.5 L1256.5 818.0 L1256.6 818.5 L1256.7 819.0 L1256.8 819.5 L1257.0 820.0 L1257.1 820.5 L1257.2 821.0 L1257.3 821.5 L1257.5 822.0 L1257.6 822.5 L1257.7 823.0 L1257.8 823.5 L1258.0 824.0 L1258.1 824.5 L1258.2 825.0 L1258.3 825.5 L1258.5 826.0 L1258.6 826.5 L1258.7 827.0 L1258.8 827.5 L1258.9 828.0 L1259.0 828.5 L1259.1 829.0 L1259.2 829.5 L1259.4 830.0 L1259.5 830.5 L1259.6 831.0 L1259.7 831.5 L1259.8 832.0 L1259.9 832.5 L1260.0 833.0 L1260.1 833.5 L1260.2 834.0 L1260.3 834.5 L1260.4 835.0 L1260.5 835.5 L1260.6 836.0 L1260.7 836.5 L1260.8 837.0 L1260.9 837.5 L1261.0 838.0 L1261.1 838.5 L1261.1 839.0 L1261.2 839.5 L1261.3 840.0 L1261.4 840.5 L1261.5 841.0 L1261.5 841.5 L1261.6 842.0 L1261.7 842.5 L1261.8 843.0 L1261.9 843.5 L1261.9 844.0 L1262.0 844.5 L1262.1 845.0 L1262.2 845.5 L1262.2 846.0 L1262.3 846.5 L1262.4 847.0 L1262.5 847.5 L1262.5 848.0 L1262.6 848.5 L1262.7 849.0 L1262.7 849.5 L1262.8 850.0 L1262.8 850.5 L1262.9 851.0 L1262.9 851.5 L1262.9 852.0 L1263.0 852.5 L1263.0 853.0 L1263.0 853.5 L1263.0 854.0 L1263.0 854.5 L1263.0 855.0 L1263.0 855.5 L1263.0 856.0 L1262.9 856.5 L1262.9 857.0 L1262.8 857.5 L1262.8 858.0 L1262.8 858.5 L1262.7 859.0 L1262.6 859.5 L1262.6 860.0 L1262.5 860.5 L1262.4 861.0 L1262.4 861.5 L1262.3 862.0 L1262.2 862.5 L1262.1 863.0 L1262.1 863.5 L1262.0 864.0 L1261.9 864.5 L1261.8 865.0 L1261.7 865.5 L1261.7 866.0 L1261.6 866.5 L1261.5 867.0 L1261.4 867.5 L1261.3 868.0 L1261.2 868.5 L1261.1 869.0 L1261.0 869.5 L1260.9 870.0 L1260.8 870.5 L1260.7 871.0 L1260.6 871.5 L1260.5 872.0 L1260.3 872.5 L1260.2 873.0 L1260.1 873.5 L1259.9 874.0 L1259.8 874.5 L1259.7 875.0 L1259.5 875.5 L1259.4 876.0 L1259.2 876.5 L1259.1 877.0 L1259.0 877.5 L1258.8 878.0 L1258.7 878.5 L1258.5 879.0 L1258.3 879.5 L1258.2 880.0 L1258.0 880.5 L1257.8 881.0 L1257.7 881.5 L1257.5 882.0 L1257.3 882.5 L1257.2 883.0 L1257.0 883.5 L1256.8 884.0 L1256.7 884.5 L1256.5 885.0 L1256.3 885.5 L1256.2 886.0 L1256.1 886.5 L1255.9 887.0 L1255.8 887.5 L1255.7 888.0 L1255.5 888.5 L1255.4 889.0 L1255.3 889.5 L1255.2 890.0 L1255.1 890.5 L1255.0 891.0 L1254.9 891.5 L1254.8 892.0 L1254.7 892.5 L1254.6 893.0 L1254.6 893.5 L1254.5 894.0 L1254.4 894.0 Z" fill="#e5656f"/>
<rect x="1252" y="988.3" width="3.2" height="27.4" fill="#231f20"/>
<rect x="1252" y="1029.3" width="3" height="26.4" fill="#8a1c28"/>
<rect x="1252.5" y="1055.7" width="1.5" height="42" fill="#b04a52" opacity="0.6"/>
<path d="M1251.0 155.5 V1214.2" fill="none" stroke="#231f20" stroke-width="4"/>
<path d="M1249.0 1192 H1666.1" fill="none" stroke="#231f20" stroke-width="4"/>
<rect x="1228.3" y="271.3" width="22" height="4" fill="#231f20"/>
<text transform="translate(1223.6 288.5) scale(1 1.045)" font-size="40" text-anchor="end">0.20</text>
<rect x="1228.3" y="590.9" width="22" height="4" fill="#231f20"/>
<text transform="translate(1223.6 608.1) scale(1 1.045)" font-size="40" text-anchor="end">0.10</text>
<rect x="1228.3" y="889.6" width="22" height="4" fill="#231f20"/>
<text transform="translate(1223.6 906.8) scale(1 1.045)" font-size="40" text-anchor="end">0.00</text>
<rect x="1228.3" y="1162.7" width="22" height="4" fill="#231f20"/>
<text transform="translate(1223.6 1179.9) scale(1 1.045)" font-size="40" text-anchor="end">-0.10</text>
<rect x="1352.0" y="1192" width="4" height="22.2" fill="#231f20"/>
<text transform="translate(1330.2 1258.2) scale(1 1.045)" font-size="40">0.1</text>
<rect x="1455.4" y="1192" width="4" height="22.2" fill="#231f20"/>
<text transform="translate(1429.6 1258.2) scale(1 1.045)" font-size="40">0.2</text>
<rect x="1558.0" y="1192" width="4" height="22.2" fill="#231f20"/>
<text transform="translate(1532.3 1262.2) scale(1 1.045)" font-size="40">0.3</text>
<rect x="1662.1" y="1192" width="4" height="22.2" fill="#231f20"/>
<text transform="translate(1632.7 1261.6) scale(1 1.045)" font-size="40">0.4</text>
<text transform="translate(1240.6 1258.2) scale(1 1.045)" font-size="40">0</text>
<text x="1379.8" y="1320.6" font-size="46.1">Density</text>
<text transform="translate(1109.4 607.2) rotate(-90)" font-size="42.5" text-anchor="middle"><tspan font-style="italic">r</tspan> value</text>
<circle cx="1298.7" cy="1080" r="19.7" fill="#e5656f"/>
<circle cx="1300.2" cy="1138.9" r="19.8" fill="#f5b961"/>
<text x="1333.9" y="1092.7" font-size="40">Training dataset</text>
<text x="1333.9" y="1154.6" font-size="40.1">Test dataset</text>
</svg>
</body>
</html>
